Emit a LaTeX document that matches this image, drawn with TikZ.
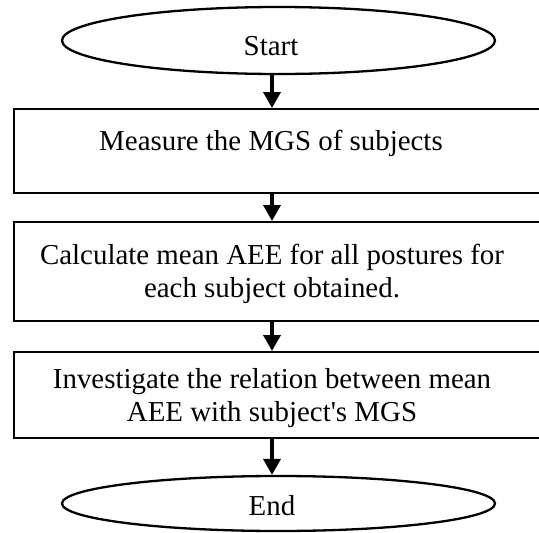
\documentclass[tikz,border=0pt]{standalone}
\usepackage{fontspec}
\setmainfont{Liberation Serif}[Ligatures=TeXOff]
\usetikzlibrary{shapes.geometric,arrows.meta}
\begin{document}
\begin{tikzpicture}[x=1pt,y=-1pt,
  term/.style={draw, ellipse, line width=2.3pt, minimum width=433pt, inner sep=0pt},
  stepbox/.style={draw, rectangle, line width=2.4pt, anchor=north west, inner sep=0pt, minimum width=560pt},
  lbl/.style={font=\fontsize{28.9}{33}\selectfont, align=center, inner sep=0pt},
  arr/.style={line width=3.6pt, -{Triangle[width=17pt,length=16pt]}}]
\useasboundingbox (0,0) rectangle (539,533);
\clip (0,0) rectangle (539,533);
\coordinate (ax) at (272,0);
% terminals
\node[term, minimum height=67pt] (start) at (278.5,40.5) {};
\node[term, minimum height=55pt] (end) at (278.5,503.5) {};
% process boxes
\node[stepbox, minimum height=84pt] (b1) at (13,108) {};
\node[stepbox, minimum height=99pt] (b2) at (13,221) {};
\node[stepbox, minimum height=86pt] (b3) at (13,351) {};
% texts
\node[lbl, anchor=base] (tstart) at (271,55) {Start};
\node[lbl, anchor=base] (t1) at (271,150) {Measure the MGS of subjects};
\node[lbl] (t2) at (272,274) {Calculate mean AEE for all postures for\\each subject obtained.};
\node[lbl] (t3) at (272,398) {Investigate the relation between mean\\AEE with subject's MGS};
\node[lbl, anchor=base] (tend) at (272,515) {End};
% connectors
\draw[arr] (start.south -| ax) -- (b1.north -| ax);
\draw[arr] (b1.south -| ax) -- (b2.north -| ax);
\draw[arr] (b2.south -| ax) -- (b3.north -| ax);
\draw[arr] (b3.south -| ax) -- (end.north -| ax);
\end{tikzpicture}
\end{document}
